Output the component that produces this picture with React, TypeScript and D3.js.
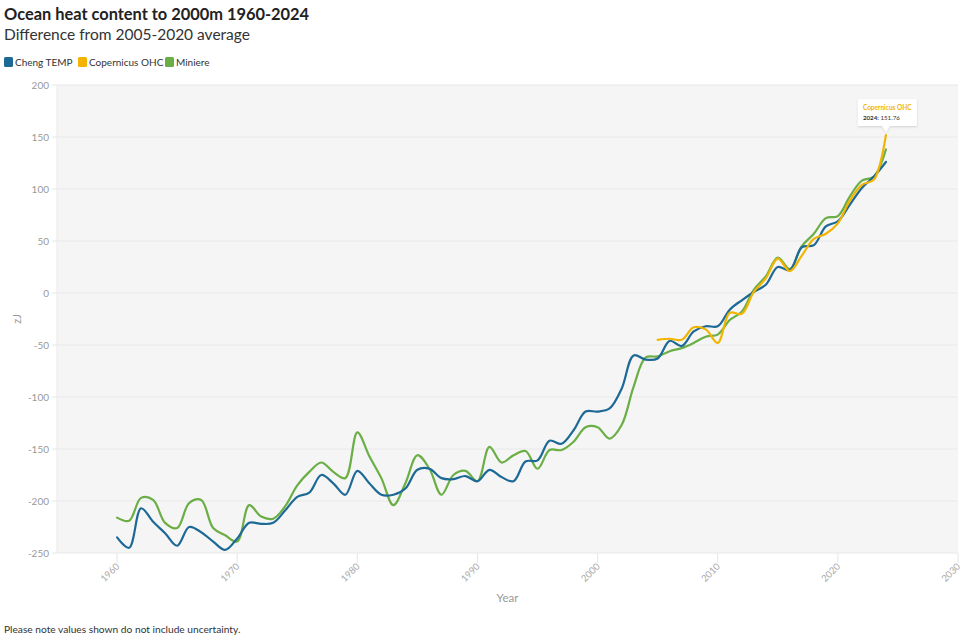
import * as d3 from 'd3';

const W = 967;
const H = 640;
const MARGIN = { top: 85, right: 9, bottom: 87, left: 57 };

const COLORS = { cheng: '#1d6996', copernicus: '#f2b400', miniere: '#6aae45' };
const FONT = 'Lato, "Source Sans Pro", sans-serif';

const chengYears = d3.range(1960, 2025);
const chengValues = [
  -235, -245, -207, -220, -231, -243, -225, -230, -239, -247,
  -236, -221, -222, -221, -209, -196, -192, -175, -183, -194,
  -171, -183, -194, -194, -188, -170, -169, -178, -179, -176,
  -181, -170, -177, -181, -162, -161, -142, -145, -132, -114,
  -114, -111, -92, -60, -64, -63, -46, -51, -37, -32,
  -32, -16, -7, 1, 8, 25, 22, 44, 46, 64,
  69, 85, 101, 112, 126,
];

const miniereYears = d3.range(1960, 2025);
const miniereValues = [
  -216, -219, -197, -199, -221, -226, -202, -199, -226, -233,
  -239, -204, -215, -217, -205, -185, -172, -163, -172, -178,
  -134, -157, -178, -204, -183, -156, -169, -194, -175, -171,
  -181, -148, -163, -156, -152, -169, -151, -151, -143, -129,
  -129, -140, -127, -90, -62, -61, -56, -53, -48, -42,
  -40, -26, -18, 3, 16, 34, 23, 45, 57, 72,
  74, 93, 108, 112, 138,
];

const copernicusYears = d3.range(2005, 2025);
const copernicusValues = [
  -45, -44, -45, -33, -35, -48, -19, -20, 1, 14,
  33, 21, 36, 52, 57, 67, 89, 104, 109, 151.76,
];

const yTicks = d3.range(-250, 201, 50);
const xTicks = d3.range(1960, 2031, 10);

const SERIES = [
  { name: 'Cheng TEMP', color: COLORS.cheng, years: chengYears, values: chengValues },
  { name: 'Copernicus OHC', color: COLORS.copernicus, years: copernicusYears, values: copernicusValues },
  { name: 'Miniere', color: COLORS.miniere, years: miniereYears, values: miniereValues },
];

export default function App() {
  const boundsW = W - MARGIN.left - MARGIN.right;
  const boundsH = H - MARGIN.top - MARGIN.bottom;

  const x = d3.scaleLinear().domain([1955, 2030]).range([MARGIN.left, MARGIN.left + boundsW]);
  const y = d3.scaleLinear().domain([-250, 200]).range([MARGIN.top + boundsH, MARGIN.top]);

  const line = d3
    .line<[number, number]>()
    .x((d) => x(d[0]))
    .y((d) => y(d[1]))
    .curve(d3.curveCatmullRom.alpha(0.5));

  // miniere underneath, copernicus on top
  const drawOrder = [SERIES[2], SERIES[0], SERIES[1]];

  const tipX = x(2024);

  const legendX = [4, 78, 165];

  return (
    <div style={{ position: 'absolute', left: 0, top: 0 }}>
      <svg width={W} height={H} style={{ display: 'block', fontFamily: FONT }}>
        <rect width={W} height={H} fill="#fff" />
        <text x={4} y={20} fontSize={16.4} fontWeight={700} fill="#222">
          Ocean heat content to 2000m 1960-2024
        </text>
        <text x={4} y={40} fontSize={15.5} fill="#333">
          Difference from 2005-2020 average
        </text>

        {SERIES.map((s, i) => (
          <g key={s.name} transform={`translate(${legendX[i]}, 57)`}>
            <rect width={9} height={10} rx={1.5} fill={s.color} />
            <text x={11} y={9} fontSize={10} fill="#333">
              {s.name}
            </text>
          </g>
        ))}

        {/* plot background */}
        <rect x={MARGIN.left} y={MARGIN.top} width={boundsW} height={boundsH} fill="#f5f5f5" />

        {yTicks.map((t) => (
          <g key={t}>
            <line x1={MARGIN.left} x2={MARGIN.left + boundsW} y1={y(t)} y2={y(t)} stroke="#e8e8e8" strokeWidth={1} />
            <line x1={MARGIN.left - 5} x2={MARGIN.left} y1={y(t)} y2={y(t)} stroke="#e6e6e6" />
            <text x={MARGIN.left - 8} y={y(t) + 3.5} fontSize={10} fill="#999" textAnchor="end">
              {t}
            </text>
          </g>
        ))}
        <line x1={MARGIN.left} x2={MARGIN.left} y1={MARGIN.top} y2={MARGIN.top + boundsH} stroke="#ebebeb" />

        {xTicks.map((t) => (
          <g key={t}>
            <line x1={x(t)} x2={x(t)} y1={MARGIN.top + boundsH} y2={MARGIN.top + boundsH + 10} stroke="#e6e6e6" />
            <text
              transform={`translate(${x(t) + 3}, ${MARGIN.top + boundsH + 14}) rotate(-45)`}
              fontSize={9.5}
              fill="#aaa"
              textAnchor="end"
            >
              {t}
            </text>
          </g>
        ))}

        <text x={MARGIN.left + boundsW / 2} y={602} fontSize={11.5} fill="#999" textAnchor="middle">
          Year
        </text>
        <text
          transform={`translate(21, ${MARGIN.top + boundsH / 2}) rotate(-90)`}
          fontSize={11}
          fill="#999"
          textAnchor="middle"
        >
          zJ
        </text>

        {drawOrder.map((s) => (
          <path
            key={s.name}
            d={line(s.years.map((yr, i) => [yr, s.values[i]] as [number, number])) || ''}
            fill="none"
            stroke={s.color}
            strokeWidth={2.2}
            strokeLinejoin="round"
            strokeLinecap="round"
          />
        ))}

        {/* tooltip */}
        <defs>
          <filter id="shadow" x="-20%" y="-20%" width="140%" height="160%">
            <feDropShadow dx={0} dy={1} stdDeviation={1.2} floodColor="#000" floodOpacity={0.15} />
          </filter>
        </defs>
        <path
          d={`M${tipX - 28},99 h59 v27 h-27 l-4,6 l-4,-6 h-24 z`}
          fill="#fff"
          filter="url(#shadow)"
        />
        <text x={tipX - 23} y={110} fontSize={6.5} fontWeight={700} fill={COLORS.copernicus}>
          Copernicus OHC
        </text>
        <text x={tipX - 23} y={120} fontSize={6.2} fill="#333">
          <tspan fontWeight={700}>2024:</tspan> 151.76
        </text>

        <text x={4} y={633} fontSize={10.2} fill="#333">
          Please note values shown do not include uncertainty.
        </text>
      </svg>
    </div>
  );
}
